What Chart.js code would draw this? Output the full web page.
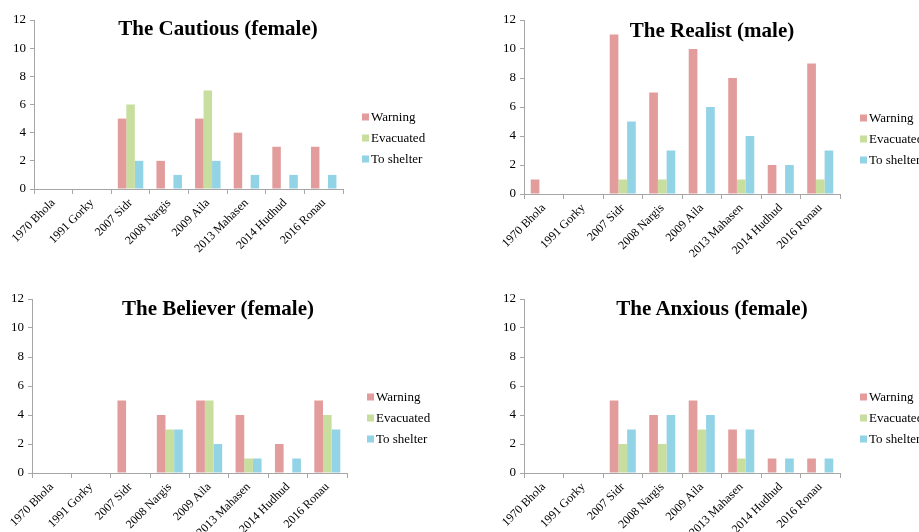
<!DOCTYPE html>
<html>
<head>
<meta charset="utf-8">
<script src="https://cdn.jsdelivr.net/npm/chart.js@4.4.1/dist/chart.umd.min.js"></script>
<style>
  html, body { margin: 0; padding: 0; background: #fff; }
  body { width: 919px; height: 532px; position: relative; overflow: hidden; font-family: "Liberation Serif", serif; }
  canvas { position: absolute; }
  .title { position: absolute; font-weight: bold; font-size: 21px; color: #000; white-space: nowrap; transform: translate(-50%, -50%); }
  .legend-item { position: absolute; font-size: 13px; line-height: 15px; white-space: nowrap; transform: translateY(-50%); color: #000; }
  .legend-item span { display: inline-block; width: 7px; height: 7px; margin-right: 2px; }
</style>
</head>
<body>
<script>
/* ===== data ===== */
const categories = ['1970 Bhola', '1991 Gorky', '2007 Sidr', '2008 Nargis', '2009 Aila', '2013 Mahasen', '2014 Hudhud', '2016 Ronau'];
const seriesNames = ['Warning', 'Evacuated', 'To shelter'];
const seriesColors = ['#E39C9C', '#C8DE9E', '#93D3E6'];
const yTicks = [0, 2, 4, 6, 8, 10, 12];

const cautiousWarning   = [0, 0, 5, 2, 5, 4, 3, 3];
const cautiousEvacuated = [0, 0, 6, 0, 7, 0, 0, 0];
const cautiousShelter   = [0, 0, 2, 1, 2, 1, 1, 1];

const realistWarning   = [1, 0, 11, 7, 10, 8, 2, 9];
const realistEvacuated = [0, 0, 1, 1, 0, 1, 0, 1];
const realistShelter   = [0, 0, 5, 3, 6, 4, 2, 3];

const believerWarning   = [0, 0, 5, 4, 5, 4, 2, 5];
const believerEvacuated = [0, 0, 0, 3, 5, 1, 0, 4];
const believerShelter   = [0, 0, 0, 3, 2, 1, 1, 3];

const anxiousWarning   = [0, 0, 5, 4, 5, 3, 1, 1];
const anxiousEvacuated = [0, 0, 2, 2, 3, 1, 0, 0];
const anxiousShelter   = [0, 0, 3, 4, 4, 3, 1, 1];

/* ===== layout (page pixels) ===== */
const panels = [
  { title: 'The Cautious (female)', series: [cautiousWarning, cautiousEvacuated, cautiousShelter],
    x: 0, y: 0, w: 460, h: 266, plot: { l: 34, t: 20, r: 343, b: 189 }, titlePos: [218, 28], legendPos: [362, 116] },
  { title: 'The Realist (male)', series: [realistWarning, realistEvacuated, realistShelter],
    x: 460, y: 0, w: 459, h: 266, plot: { l: 64, t: 20, r: 380, b: 194 }, titlePos: [712, 30], legendPos: [860, 117] },
  { title: 'The Believer (female)', series: [believerWarning, believerEvacuated, believerShelter],
    x: 0, y: 266, w: 460, h: 266, plot: { l: 32, t: 33, r: 347, b: 207 }, titlePos: [218, 308], legendPos: [367, 396] },
  { title: 'The Anxious (female)', series: [anxiousWarning, anxiousEvacuated, anxiousShelter],
    x: 460, y: 266, w: 459, h: 266, plot: { l: 64, t: 33, r: 380, b: 207 }, titlePos: [712, 308], legendPos: [860, 396] }
];

const axisColor = '#a6a6a6';
const xFont = { family: '"Liberation Serif", serif', size: 12 };
const yFont = { family: '"Liberation Serif", serif', size: 13 };

function addText(cls, html, x, y) {
  const el = document.createElement('div');
  el.className = cls;
  el.innerHTML = html;
  el.style.left = x + 'px';
  el.style.top = y + 'px';
  document.body.appendChild(el);
}

panels.forEach(p => {
  const canvas = document.createElement('canvas');
  canvas.width = p.w;
  canvas.height = p.h;
  canvas.style.left = p.x + 'px';
  canvas.style.top = p.y + 'px';
  canvas.style.width = p.w + 'px';
  canvas.style.height = p.h + 'px';
  document.body.appendChild(canvas);

  new Chart(canvas, {
    type: 'bar',
    data: {
      labels: categories,
      datasets: seriesNames.map((name, i) => ({
        label: name,
        data: p.series[i],
        backgroundColor: seriesColors[i],
        barPercentage: 1,
        categoryPercentage: 0.66
      }))
    },
    options: {
      responsive: false,
      animation: false,
      layout: { padding: { left: 0, top: p.plot.t, right: p.w - p.plot.r, bottom: 0 } },
      plugins: { legend: { display: false }, title: { display: false }, tooltip: { enabled: false } },
      scales: {
        x: {
          grid: { display: true, drawOnChartArea: false, drawTicks: true, tickLength: 5, color: axisColor, offset: true },
          border: { color: axisColor },
          ticks: { color: '#000', font: xFont, minRotation: 45, maxRotation: 45, autoSkip: false, padding: 2 },
          afterFit: s => { s.height = p.h - p.plot.b; }
        },
        y: {
          min: 0, max: 12,
          grid: { display: true, drawOnChartArea: false, drawTicks: true, tickLength: 4, color: axisColor },
          border: { color: axisColor },
          ticks: { color: '#000', font: yFont, padding: 4, stepSize: 2 },
          afterBuildTicks: s => { s.ticks = yTicks.map(v => ({ value: v })); },
          afterFit: s => { s.width = p.plot.l; }
        }
      }
    }
  });

  addText('title', p.title, p.titlePos[0], p.titlePos[1]);
  seriesNames.forEach((name, i) => {
    addText('legend-item', `<span style="background:${seriesColors[i]}"></span>${name}`,
      p.legendPos[0], p.legendPos[1] + i * 21);
  });
});
</script>
</body>
</html>
